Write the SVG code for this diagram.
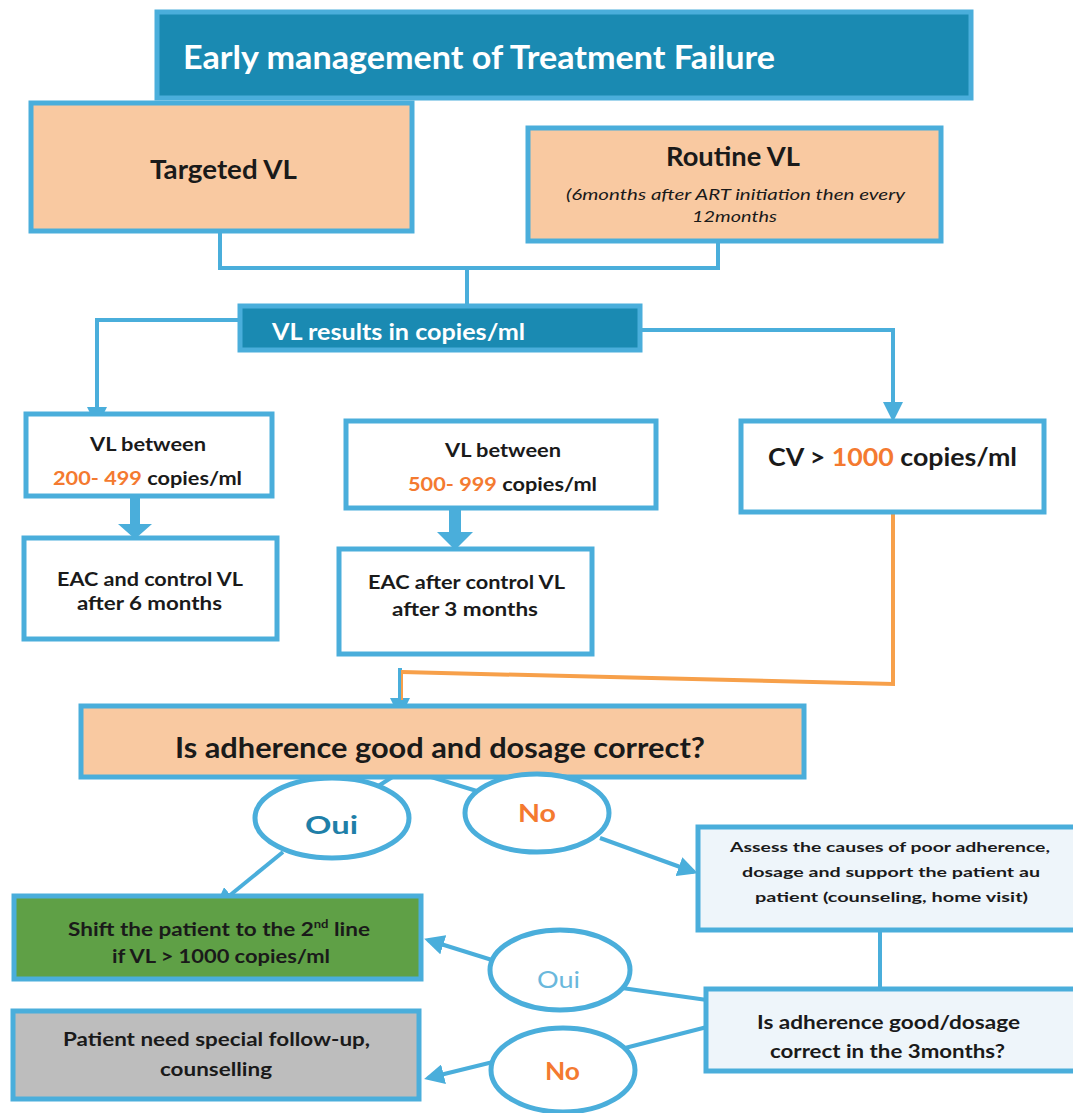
<svg xmlns="http://www.w3.org/2000/svg" width="1073" height="1113" viewBox="0 0 1073 1113">
<style>
text{font-family:Lato,"Open Sans","Liberation Sans",sans-serif;font-weight:bold;fill:#1a1a1a}
text.it{font-weight:normal;font-style:italic}
text.nw{font-weight:normal}
.box{stroke:#4aaedb;stroke-width:5}
.peach{fill:#f9c9a1}
.white{fill:#ffffff}
.pale{fill:#eef5fa}
.teal{fill:#1a8ab2;stroke:#4aaedb;stroke-width:5}
.ell{fill:#ffffff;stroke:#4aaedb;stroke-width:5}
.ln{fill:none;stroke:#4aaedb;stroke-width:4}
.arr{fill:none;stroke:#4aaedb;stroke-width:4;marker-end:url(#ah)}
.wt{fill:#ffffff}
.or{fill:#f47a30}
</style>
<defs>
<marker id="ah" viewBox="0 0 10 10" refX="8" refY="5" markerWidth="5" markerHeight="5" orient="auto" markerUnits="strokeWidth">
<path d="M0,0 L10,5 L0,10 Z" fill="#4aaedb"/>
</marker>
</defs>
<rect width="1073" height="1113" fill="#ffffff"/>

<g id="connectors">
<polyline class="ln" points="220,232 220,268 718,268 718,242"/>
<line class="ln" x1="467" y1="268" x2="467" y2="307"/>
<polyline class="arr" points="240,320 97,320 97,423"/>
<polyline class="arr" points="640,330 893,330 893,418"/>
<polygon points="130,496 140,496 140,524 152,524 135,539 118,524 130,524" fill="#4aaedb"/>
<polygon points="449,508 461,508 461,532 473,532 455,550 437,532 449,532" fill="#4aaedb"/>
<polyline fill="none" stroke="#f7a04a" stroke-width="4" points="893,512 893,684 402,672"/>
<line class="arr" x1="400" y1="668" x2="400" y2="714"/>
<line x1="402" y1="670" x2="402" y2="700" stroke="#f7a04a" stroke-width="2"/>
<line class="ln" x1="394" y1="776" x2="372" y2="790"/>
<line class="ln" x1="428" y1="776" x2="480" y2="792"/>
<line class="arr" x1="283" y1="852" x2="218" y2="905"/>
<line class="arr" x1="600" y1="838" x2="694" y2="872"/>
<line class="ln" x1="880" y1="930" x2="880" y2="990"/>
<line class="ln" x1="707" y1="1000" x2="622" y2="988"/>
<line class="arr" x1="492" y1="960" x2="428" y2="940"/>
<line class="ln" x1="707" y1="1027" x2="625" y2="1048"/>
<line class="arr" x1="493" y1="1062" x2="428" y2="1078"/>
</g>

<g id="title">
<rect class="teal" x="157" y="12" width="814" height="86"/>
<text class="wt" x="183" y="69" font-size="32" textLength="592" lengthAdjust="spacingAndGlyphs">Early management of Treatment Failure</text>
</g>

<g id="targeted">
<rect class="box peach" x="31" y="103" width="381" height="128"/>
<text x="150" y="179" font-size="26" textLength="147" lengthAdjust="spacingAndGlyphs">Targeted VL</text>
</g>

<g id="routine">
<rect class="box peach" x="528" y="128" width="413" height="113"/>
<text x="666" y="166" font-size="26" textLength="134" lengthAdjust="spacingAndGlyphs">Routine VL</text>
<text class="it" x="566" y="200" font-size="15" textLength="339" lengthAdjust="spacingAndGlyphs">(6months after ART initiation then every</text>
<text class="it" x="692" y="222" font-size="15" textLength="85" lengthAdjust="spacingAndGlyphs">12months</text>
</g>

<g id="results">
<rect class="teal" x="240" y="306" width="400" height="44"/>
<text class="wt" x="272" y="340" font-size="22" textLength="253" lengthAdjust="spacingAndGlyphs">VL results in copies/ml</text>
</g>

<g id="vl200">
<rect class="box white" x="26" y="414" width="246" height="82"/>
<text x="90" y="451" font-size="19" textLength="116" lengthAdjust="spacingAndGlyphs">VL between</text>
<text x="53" y="485" font-size="19" textLength="189" lengthAdjust="spacingAndGlyphs"><tspan class="or">200- 499</tspan> copies/ml</text>
</g>

<g id="vl500">
<rect class="box white" x="346" y="421" width="310" height="87"/>
<text x="445" y="457" font-size="19" textLength="116" lengthAdjust="spacingAndGlyphs">VL between</text>
<text x="408" y="491" font-size="19" textLength="189" lengthAdjust="spacingAndGlyphs"><tspan class="or">500- 999</tspan> copies/ml</text>
</g>

<g id="cv1000">
<rect class="box white" x="741" y="421" width="303" height="91"/>
<text x="768" y="466" font-size="24" textLength="249" lengthAdjust="spacingAndGlyphs">CV &gt; <tspan class="or">1000</tspan> copies/ml</text>
</g>

<g id="eac6">
<rect class="box white" x="24" y="538" width="253" height="101"/>
<text x="57" y="586" font-size="19" textLength="186" lengthAdjust="spacingAndGlyphs">EAC and control VL</text>
<text x="77" y="610" font-size="19" textLength="145" lengthAdjust="spacingAndGlyphs">after 6 months</text>
</g>

<g id="eac3">
<rect class="box white" x="339" y="549" width="253" height="105"/>
<text x="368" y="589" font-size="19" textLength="197" lengthAdjust="spacingAndGlyphs">EAC after control VL</text>
<text x="392" y="616" font-size="19" textLength="146" lengthAdjust="spacingAndGlyphs">after 3 months</text>
</g>

<g id="question">
<rect class="box peach" x="81" y="706" width="723" height="71"/>
<text x="175" y="758" font-size="28" textLength="530" lengthAdjust="spacingAndGlyphs">Is adherence good and dosage correct?</text>
</g>

<g id="oui1">
<ellipse class="ell" cx="332" cy="818" rx="77" ry="40"/>
<text x="305" y="834" font-size="24" style="fill:#1f7fa8" textLength="53" lengthAdjust="spacingAndGlyphs">Oui</text>
</g>

<g id="no1">
<ellipse class="ell" cx="537" cy="813" rx="72" ry="39"/>
<text class="or" x="518" y="822" font-size="24" textLength="38" lengthAdjust="spacingAndGlyphs">No</text>
</g>

<g id="assess">
<rect class="box pale" x="698" y="827" width="380" height="103"/>
<text x="730" y="852" font-size="14" textLength="320" lengthAdjust="spacingAndGlyphs">Assess the causes of poor adherence,</text>
<text x="742" y="877" font-size="14" textLength="298" lengthAdjust="spacingAndGlyphs">dosage and support the patient au</text>
<text x="755" y="902" font-size="14" textLength="273" lengthAdjust="spacingAndGlyphs">patient (counseling, home visit)</text>
</g>

<g id="shift">
<rect class="box" fill="#5fa046" x="14" y="896" width="407" height="83"/>
<text x="68" y="936" font-size="19" textLength="302" lengthAdjust="spacingAndGlyphs">Shift the patient to the 2<tspan font-size="11" dy="-8">nd</tspan><tspan dy="8"> line</tspan></text>
<text x="112" y="963" font-size="19" textLength="218" lengthAdjust="spacingAndGlyphs">if VL &gt; 1000 copies/ml</text>
</g>

<g id="oui2">
<ellipse class="ell" cx="560" cy="970" rx="70" ry="40"/>
<text class="nw" x="537" y="988" font-size="24" style="fill:#6ab8dc" textLength="43" lengthAdjust="spacingAndGlyphs">Oui</text>
</g>

<g id="check3">
<rect class="box pale" x="706" y="989" width="372" height="82"/>
<text x="757" y="1029" font-size="19" textLength="263" lengthAdjust="spacingAndGlyphs">Is adherence good/dosage</text>
<text x="770" y="1058" font-size="19" textLength="235" lengthAdjust="spacingAndGlyphs">correct in the 3months?</text>
</g>

<g id="special">
<rect class="box" fill="#bdbdbd" x="13" y="1011" width="406" height="88"/>
<text x="63" y="1046" font-size="19" textLength="307" lengthAdjust="spacingAndGlyphs">Patient need special follow-up,</text>
<text x="160" y="1076" font-size="19" textLength="112" lengthAdjust="spacingAndGlyphs">counselling</text>
</g>

<g id="no2">
<ellipse class="ell" cx="563" cy="1070" rx="72" ry="42"/>
<text class="or" x="545" y="1080" font-size="24" textLength="35" lengthAdjust="spacingAndGlyphs">No</text>
</g>
</svg>
